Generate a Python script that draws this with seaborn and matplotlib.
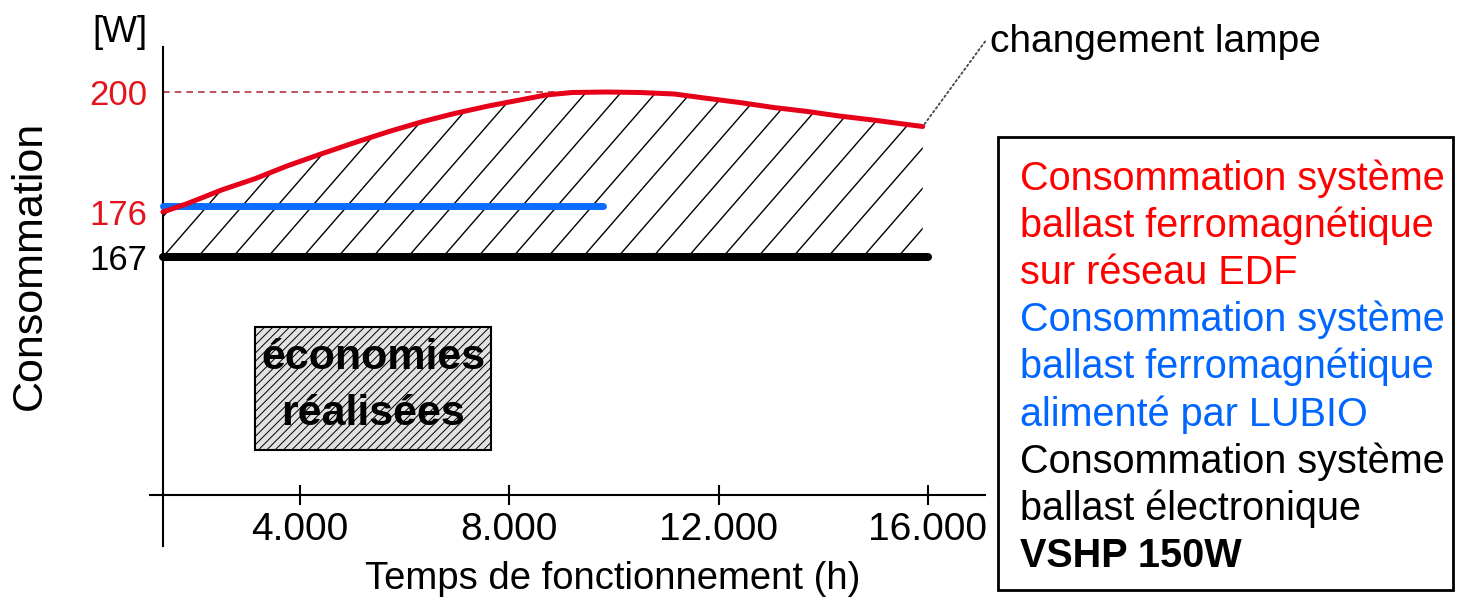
import numpy as np
import pandas as pd
import matplotlib.pyplot as plt
import seaborn as sns
from matplotlib.patches import Rectangle

# valeurs (heures / watts)
heures_edf = [1380, 1850, 2500, 3150, 3750, 4400, 5050, 5700, 6350, 6950, 7600, 8250, 8700,
              9200, 9850, 10500, 11150, 11800, 12400, 13050, 13700, 14300, 14950, 15600, 15900]
conso_edf = [176, 177.7, 180.4, 182.7, 185.2, 187.6, 189.9, 192.1, 194.1, 195.7, 197.2, 198.5, 199.4,
             199.9, 200, 199.9, 199.6, 198.7, 197.9, 196.9, 196.1, 195.2, 194.4, 193.5, 193.1]
heures_lubio = [1380, 9790]
conso_lubio = [177.2, 177.2]
heures_elec = [1380, 16000]
conso_elec = [167, 167]
conso_max = 200

x_ticks = [4000, 8000, 12000, 16000]
x_labels = ['4.000', '8.000', '12.000', '16.000']
y_ticks = [167, 176, 200]
y_labels = ['167', '176', '200']
y_couleurs = ['black', '#e3141e', '#e3141e']

legende_textes = ['Consommation système', 'ballast ferromagnétique', 'sur réseau EDF',
                  'Consommation système', 'ballast ferromagnétique', 'alimenté par LUBIO',
                  'Consommation système', 'ballast électronique', 'VSHP 150W']
legende_couleurs = ['#ff0000'] * 3 + ['#0066ff'] * 3 + ['black'] * 3
legende_poids = ['normal'] * 8 + ['bold']

sns.set_style('white')
plt.rcParams['font.family'] = ['Liberation Sans', 'DejaVu Sans']
plt.rcParams['hatch.linewidth'] = 0.7
plt.rcParams['text.color'] = 'black'
plt.rcParams['axes.labelcolor'] = 'black'
plt.rcParams['xtick.color'] = 'black'
plt.rcParams['ytick.color'] = 'black'

W, H = 1462, 608
fig = plt.figure(figsize=(W / 100, H / 100), dpi=100)
ax = fig.add_axes([150 / W, 1 - 546 / H, 835 / W, 499 / H])
ax.set_xlim(1133, 17090)
ax.set_ylim(109.2, 209)

# hachures entre la courbe rouge et la ligne noire
poly = ax.fill_between(heures_edf, conso_elec[0], conso_edf, facecolor='none', edgecolor='none')
clip = poly.get_paths()[0]
to_data = ax.transData.inverted()
x0, y0 = ax.transData.transform((heures_edf[0], conso_elec[0]))
for k in range(-10, 25):
    p = to_data.transform([(x0 + 35 * k, y0), (x0 + 35 * k + 260, y0 + 260 * 1.15)])
    ln, = ax.plot(p[:, 0], p[:, 1], color='black', lw=1.0, zorder=1)
    ln.set_clip_path(clip, ax.transData)

ax.hlines(conso_max, heures_edf[0], 9200, colors='#b5353a', linestyles=(0, (4, 3)), lw=1.2, zorder=2)

df_edf = pd.DataFrame({'heures': heures_edf, 'conso': conso_edf})
df_lubio = pd.DataFrame({'heures': heures_lubio, 'conso': conso_lubio})
df_elec = pd.DataFrame({'heures': heures_elec, 'conso': conso_elec})
sns.lineplot(data=df_elec, x='heures', y='conso', color='black', lw=5.8, ax=ax, zorder=3)
sns.lineplot(data=df_lubio, x='heures', y='conso', color='#0a6cff', lw=5, ax=ax, zorder=4)
sns.lineplot(data=df_edf, x='heures', y='conso', color='#e6001a', lw=3.6, ax=ax, zorder=5)

# axes qui se croisent
for s in ['top', 'right']:
    ax.spines[s].set_visible(False)
ax.spines['left'].set_position(('data', heures_edf[0]))
ax.spines['bottom'].set_position(('data', 119.4))
for s in ['left', 'bottom']:
    ax.spines[s].set_linewidth(1.5)
    ax.spines[s].set_color('black')

ax.set_xticks(x_ticks, x_labels)
ax.tick_params(axis='x', bottom=True, direction='inout', length=15, width=1.5, pad=5, labelsize=28)
ax.set_yticks(y_ticks, y_labels)
ax.tick_params(axis='y', left=False, length=0, pad=11, labelsize=25)
for lab, c in zip(ax.get_yticklabels(), y_couleurs):
    lab.set_color(c)

ax.set_xlabel('Temps de fonctionnement (h)', fontsize=27.5)
ax.xaxis.set_label_coords((613 - 150) / 835, (546 - 561) / 499)
ax.set_ylabel('Consommation', fontsize=31)
ax.yaxis.set_label_coords((50 - 150) / 835, (546 - 265) / 499)
fig.text(120 / W, 1 - 32 / H, '[W]', fontsize=26.5, ha='center', va='center')

ax.annotate('changement lampe', xy=(heures_edf[-1], conso_edf[-1]), xytext=(990, H - 42),
            textcoords='figure pixels', ha='left', va='center', fontsize=28,
            arrowprops=dict(arrowstyle='-', ls=':', lw=1.3, color='#444444',
                            shrinkA=2, shrinkB=0, relpos=(0, 0.7)),
            annotation_clip=False)

# encadré "économies réalisées"
ax.add_patch(Rectangle((3140, 128.4), 4510, 24.6, fc='#e2e2e2', ec='black', lw=1.5,
                       hatch='////', zorder=2))
ax.text(5395, 141.2, 'économies\nréalisées', ha='center', va='center', fontsize=31,
        fontweight='bold', multialignment='center', linespacing=1.5, zorder=3)

# encadré de légende
fig.add_artist(Rectangle((998 / W, 1 - 590 / H), 455 / W, 453 / H, transform=fig.transFigure,
                         fill=False, lw=2, ec='black'))
for i, (t, c, w) in enumerate(zip(legende_textes, legende_couleurs, legende_poids)):
    fig.text(1020 / W, 1 - (190 + 47.1 * i) / H, t, color=c, fontweight=w,
             fontsize=28.5, va='baseline')

fig.savefig('out.png', dpi=100)
